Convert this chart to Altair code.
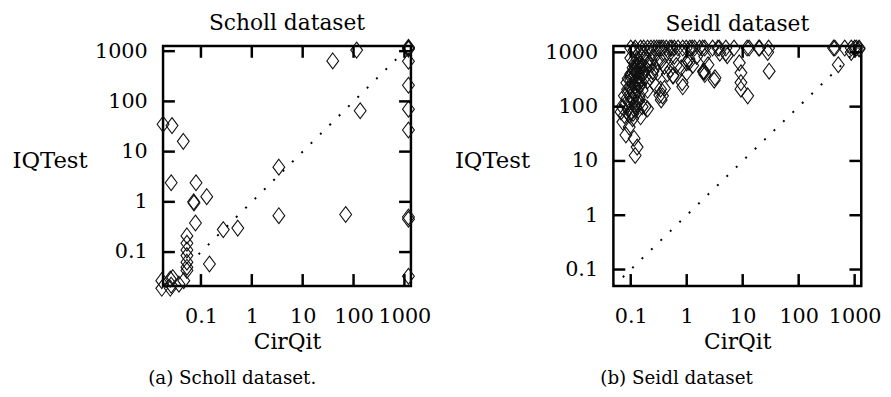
import altair as alt
import pandas as pd

FONT = "DejaVu Serif"

# ---------------- data ----------------
scholl_x = [0.018, 0.027, 0.045, 0.026, 0.08, 0.072, 0.073, 0.13, 0.078, 0.053,
            0.053, 0.053, 0.053, 0.053, 0.053, 0.053, 0.147, 0.275, 0.53, 3.4,
            3.4, 70, 39, 115, 135, 1200, 1200, 1200, 1200, 1200,
            1200, 1200, 1200, 1200, 1200, 0.017, 0.017, 0.025, 0.026, 0.025,
            0.037, 0.046, 0.028]
scholl_y = [35, 33, 16, 2.4, 2.4, 1.0, 0.95, 1.27, 0.38, 0.21,
            0.15, 0.11, 0.085, 0.063, 0.05, 0.043, 0.058, 0.28, 0.30, 4.9,
            0.53, 0.56, 640, 1050, 65, 1200, 1150, 1100, 630, 210,
            70, 27, 0.5, 0.45, 0.033, 0.027, 0.019, 0.029, 0.022, 0.019,
            0.023, 0.027, 0.031]

seidl_x = [
    # top row
    0.1, 0.12, 0.15, 0.17, 0.2, 0.23, 0.26, 0.29, 0.32, 0.35, 0.38, 0.43, 0.5, 0.54,
    0.6, 0.7, 0.85, 0.98, 1.14, 1.25, 1.38, 1.7, 1.93, 2.1, 2.9, 3.6, 3.8, 5.0, 7.0,
    12, 13, 19.4, 20, 29, 420, 443, 665, 870, 1000, 1070, 1200, 1200,
    # near top
    0.115, 0.1, 0.18, 0.23, 0.23, 0.5, 0.6, 1.1, 1.5, 2.1, 3.9, 5.0, 5.3, 28, 870,
    # middle
    0.12, 0.14, 0.15, 0.124, 0.1, 0.085, 0.088, 0.077, 0.13, 0.16, 0.14, 0.11, 0.3,
    0.28, 0.34, 0.37, 0.51, 0.57, 0.83, 0.8, 1.0, 1.1, 2.0, 1.0, 2.4, 3.2, 2.1, 2.0,
    8.7, 9.3, 9.3, 9.3, 12.3, 29.7, 510, 0.65, 1.28, 0.57, 0.85, 2.07, 3.1, 0.33,
    0.35, 0.4, 0.18,
    # low cluster
    0.12, 0.13, 0.115, 0.082, 0.094, 0.072, 0.077, 0.067, 0.108, 0.15, 0.2, 0.16,
    0.07, 0.095, 0.115, 0.095,
    # dense blob
    0.1, 0.11, 0.12, 0.13, 0.1, 0.11, 0.12, 0.13, 0.14, 0.12, 0.11, 0.13, 0.14, 0.12,
    0.11, 0.13, 0.15, 0.12, 0.14, 0.13, 0.11, 0.1, 0.09, 0.1, 0.12, 0.14, 0.15, 0.16,
    0.17, 0.16, 0.15, 0.13, 0.12, 0.14, 0.09, 0.085, 0.08, 0.09, 0.1, 0.11, 0.125,
    0.135, 0.105, 0.2, 0.18, 0.19, 0.22, 0.25, 0.2, 0.17, 0.14, 0.2, 0.24, 0.27, 0.3,
    0.26, 0.35, 0.4, 0.45, 0.42]
seidl_y = [
    1200, 1200, 1200, 1200, 1200, 1200, 1200, 1200, 1200, 1200, 1200, 1200, 1200, 1200,
    1200, 1200, 1200, 1200, 1200, 1200, 1200, 1200, 1200, 1200, 1200, 1200, 1200, 1200, 1200,
    1200, 1200, 1200, 1200, 1200, 1200, 1200, 1200, 1200, 1200, 1200, 1200, 1150,
    1100, 785, 810, 970, 730, 970, 850, 757, 840, 840, 970, 970, 869, 1000, 1000,
    550, 600, 470, 420, 310, 275, 209, 158, 260, 200, 150, 180, 420,
    240, 210, 158, 480, 365, 277, 520, 420, 650, 450, 640, 590, 340, 390, 440,
    640, 420, 277, 210, 158, 450, 590, 572, 572, 377, 232, 433, 306, 163,
    133, 216, 100,
    12.6, 18, 26, 30, 42, 52, 69, 80, 60, 65, 91, 100,
    100, 120, 90, 70,
    150, 140, 170, 200, 230, 260, 300, 330, 350, 380, 420, 450, 500, 480,
    520, 560, 620, 650, 700, 750, 680, 400, 330, 360, 240, 270, 300, 380,
    420, 550, 250, 120, 110, 130, 180, 140, 110, 90, 80, 75, 95,
    85, 200, 300, 350, 500, 600, 450, 700, 900, 950, 200, 380, 530, 650,
    800, 700, 550, 400, 900]

tick_values = [0.1, 1, 10, 100, 1000]
panel_titles = ["Scholl dataset", "Seidl dataset"]
captions = ["(a) Scholl dataset.", "(b) Seidl dataset"]
x_domains = [[0.018, 1343], [0.049, 1313]]
y_domains = [[0.0212, 1271], [0.0499, 1313]]
diag_ranges = [[0.09, 1200], [0.049, 1200]]

W, H = 251, 243
TICK = 12
DIAMOND = "M0,-1L0.75,0L0,1L-0.75,0Z"


def panel(xs, ys, xdom, ydom, diag, title, caption, ytitle_x, cap_x):
    xscale = alt.Scale(type="log", domain=xdom, nice=False)
    yscale = alt.Scale(type="log", domain=ydom, nice=False)

    xaxis = alt.Axis(title="CirQit", values=tick_values, format="~g",
                     ticks=False, tickSize=0, domain=False, grid=False,
                     labelFont=FONT, labelFontSize=21, labelColor="black",
                     labelBaseline="middle", labelPadding=31,
                     labelOverlap=False, labelFlush=False,
                     titleFont=FONT, titleFontSize=22, titleFontWeight="normal",
                     titleColor="black", titleBaseline="alphabetic", titleY=63)
    yaxis = alt.Axis(title="IQTest", values=tick_values, format="~g",
                     ticks=False, tickSize=0, domain=False, grid=False,
                     labelFont=FONT, labelFontSize=21, labelColor="black",
                     labelPadding=16, labelOverlap=False, labelFlush=False,
                     titleFont=FONT, titleFontSize=23, titleFontWeight="normal",
                     titleColor="black", titleAngle=0, titleAlign="left",
                     titleBaseline="alphabetic", titleX=ytitle_x, titleY=123)

    X = alt.X("x:Q", scale=xscale, axis=xaxis)
    Y = alt.Y("y:Q", scale=yscale, axis=yaxis)

    pts = alt.Chart(pd.DataFrame({"x": xs, "y": ys})).mark_point(
        shape=DIAMOND, size=256, filled=False, color="#111",
        strokeWidth=1.1, opacity=1
    ).encode(x=X, y=Y)

    diag_df = pd.DataFrame({"x": diag, "y": diag})
    line = alt.Chart(diag_df).mark_line(
        clip=True, color="black", strokeWidth=2, strokeDash=[2, 11.3], strokeCap="butt"
    ).encode(x=X, y=Y)

    tdf = pd.DataFrame({"x": tick_values, "y": tick_values})
    rule_style = dict(color="black", strokeWidth=2.5)
    tb = alt.Chart(tdf).mark_rule(**rule_style).encode(
        x=X, y=alt.value(H), y2=alt.value(H - TICK))
    tt = alt.Chart(tdf).mark_rule(**rule_style).encode(
        x=X, y=alt.value(0), y2=alt.value(TICK))
    tl = alt.Chart(tdf).mark_rule(**rule_style).encode(
        y=Y, x=alt.value(0), x2=alt.value(TICK))
    tr = alt.Chart(tdf).mark_rule(**rule_style).encode(
        y=Y, x=alt.value(W), x2=alt.value(W - TICK))

    cap = alt.Chart(pd.DataFrame({"c": [caption]})).mark_text(
        font=FONT, fontSize=18.5, color="black", align="center", baseline="alphabetic"
    ).encode(x=alt.value(cap_x), y=alt.value(342), text="c:N")

    return alt.layer(pts, line, tb, tt, tl, tr, cap).properties(
        width=W, height=H,
        title=alt.Title(title, font=FONT, fontSize=22, fontWeight="normal",
                        color="black", anchor="middle", baseline="alphabetic",
                        offset=-15),
    )


left = panel(scholl_x, scholl_y, x_domains[0], y_domains[0], diag_ranges[0],
             panel_titles[0], captions[0], -153, 70)
right = panel(seidl_x, seidl_y, x_domains[1], y_domains[1], diag_ranges[1],
              panel_titles[1], captions[1], -161, 64)

chart = alt.hconcat(left, right, spacing=205, bounds="flush").properties(
    padding={"left": 2, "top": 0, "right": 0, "bottom": 0}
).configure_view(stroke="black", strokeWidth=2.5)

chart.save("out.html", embed_options={"renderer": "svg", "actions": False})
